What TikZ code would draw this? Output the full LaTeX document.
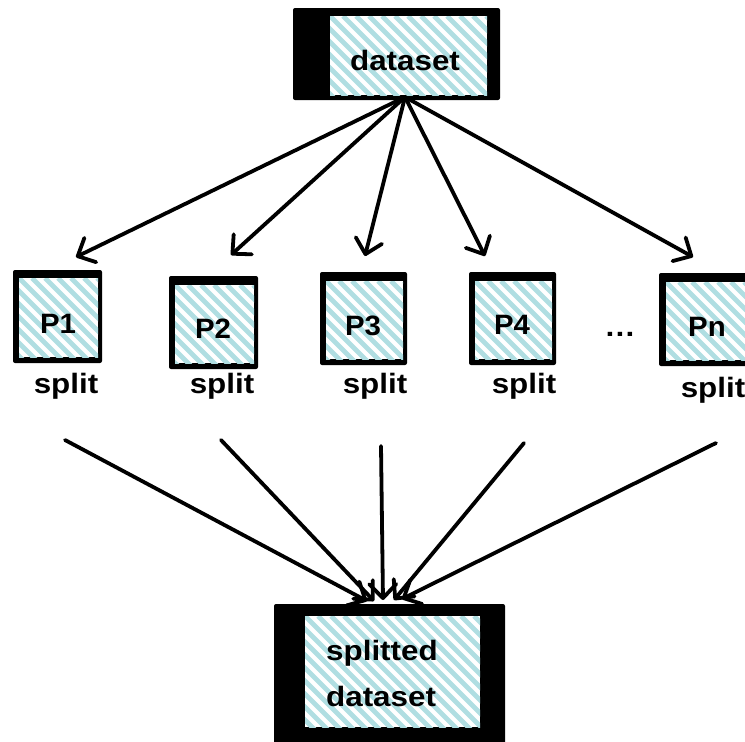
\documentclass[tikz,border=0pt]{standalone}
\usepackage{fontspec}
\setmainfont{Liberation Sans}
\usetikzlibrary{arrows.meta}
\definecolor{stripe}{RGB}{176,222,226}
\tikzset{
  outerbox/.style={fill=black, rounded corners=2pt},
  conn/.style={line width=3.8pt, line cap=round, -{Straight Barb[length=14pt,width=27pt,round]}},
  lbl/.style={font=\fontsize{28}{46}\selectfont\bfseries, inner sep=0pt},
}
\newcommand\stripebox[4]{%
  \fill[white] (#1,#2) rectangle (#3,#4);
  \begin{scope}
    \clip (#1,#2) rectangle (#3,#4);
    \foreach \k in {-12,...,16} \draw[stripe, line width=4.8pt] ({#1+13*\k},#2) -- ++(200,200);
  \end{scope}}
\newcommand\wide[1]{\scalebox{1.12}[1]{#1}}
\newcommand\pwide[1]{\scalebox{1.05}[1]{#1}}
\begin{document}
\begin{tikzpicture}[x=1pt,y=-1pt]
\useasboundingbox (0,0) rectangle (745,742);
% top dataset box
\fill[outerbox] (293,8) rectangle (500,100);
\stripebox{330}{16}{487}{95}
\node[lbl, anchor=base] (ds) at (405,70) {\wide{dataset}};
% P boxes
\fill[outerbox] (13,270) rectangle (102,363);
\stripebox{19}{278}{98}{357}
\node[lbl, anchor=base] (p1) at (58,333) {\pwide{P1}};
\fill[outerbox] (169,276) rectangle (258,369);
\stripebox{175}{285}{254}{363}
\node[lbl, anchor=base] (p2) at (213,338) {\pwide{P2}};
\fill[outerbox] (320,272) rectangle (407,365);
\stripebox{326}{281}{403}{359}
\node[lbl, anchor=base] (p3) at (363,335) {\pwide{P3}};
\fill[outerbox] (469,272) rectangle (556,365);
\stripebox{475}{281}{552}{359}
\node[lbl, anchor=base] (p4) at (512,334) {\pwide{P4}};
\fill[outerbox] (659,273) rectangle (752,366);
\stripebox{666}{282}{752}{360}
\node[lbl, anchor=base] (pn) at (707,336) {\pwide{Pn}};
\node[lbl, anchor=base] (dots) at (620,336) {\wide{…}};
% split labels
\node[lbl, anchor=base] (s1) at (66,393) {\wide{split}};
\node[lbl, anchor=base] (s2) at (222,393) {\wide{split}};
\node[lbl, anchor=base] (s3) at (375,393) {\wide{split}};
\node[lbl, anchor=base] (s4) at (524,393) {\wide{split}};
\node[lbl, anchor=base] (s5) at (713,397) {\wide{split}};
% bottom box
\fill[outerbox] (274,604) rectangle (505,750);
\stripebox{305}{616}{480}{727}
\node[lbl, anchor=base west, align=left] (out) at (326,706) {\wide{splitted}\\\wide{dataset}};
% connector endpoints
\coordinate (src) at (405,97);
\coordinate (e1) at (76,257);
\coordinate (e2) at (231,255);
\coordinate (e3) at (365,256);
\coordinate (e4) at (485,256);
\coordinate (e5) at (693,257);
\coordinate (b1) at (65,440);
\coordinate (b2) at (221,440);
\coordinate (b3) at (381,446);
\coordinate (b4) at (524,443);
\coordinate (b5) at (716,443);
\coordinate (f1) at (367,601);
\coordinate (f2) at (374,601);
\coordinate (f3) at (383,600);
\coordinate (f4) at (394,600);
\coordinate (f5) at (402,599);
\foreach \i in {1,...,5} {
  \draw[conn] (src) -- (e\i);
  \draw[conn] (b\i) -- (f\i);
}
\end{tikzpicture}
\end{document}
